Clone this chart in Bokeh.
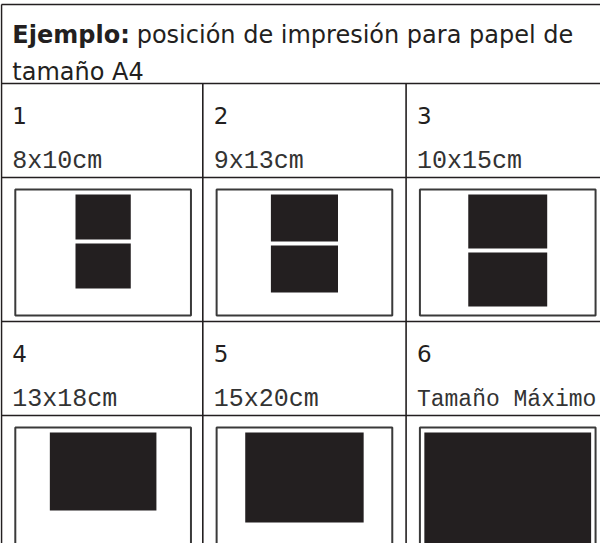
from bokeh.plotting import figure
from bokeh.models import Range1d, ColumnDataSource
from bokeh.embed import file_html
from bokeh.resources import INLINE
from bokeh.core.properties import value

# ---------------- data ----------------
heading_bold = "Ejemplo:"
heading_rest = "posición de impresión para papel de"
heading_line2 = "tamaño A4"
panel_numbers = ["1", "2", "3", "4", "5", "6"]
size_labels = ["8x10cm", "9x13cm", "10x15cm", "13x18cm", "15x20cm", "Tamaño Máximo"]
# drawn photo size inside an A4 frame of 178 x 126 units
photo_w = [56, 68, 80, 108, 120, 169]
photo_h = [45, 47, 54, 78, 90, 116]
photo_count = [2, 2, 2, 1, 1, 1]

# ---------------- layout ----------------
INK = "#231f20"
TABLE_LEFT, TABLE_TOP, TABLE_RIGHT, TABLE_BOTTOM = 5, 12, 620, 575
HEADER_BOTTOM = 91
COL_LEFTS = [5, 209, 415]
ROW_TOPS = [91, 329]
LABEL_H = 94
FRAME_DX, FRAME_DY, FRAME_W, FRAME_H = 14, 106, 178, 126
PHOTO_INSET, PHOTO_GAP = 5, 4

p = figure(width=600, height=543, x_range=Range1d(4, 612), y_range=Range1d(551, 8),
           output_backend="svg", toolbar_location=None,
           x_axis_type=None, y_axis_type=None, min_border=0)
p.outline_line_color = None
p.background_fill_color = "white"
p.border_fill_color = "white"
p.grid.grid_line_color = None

# table lines
hy = [TABLE_TOP, HEADER_BOTTOM] + [v for r in ROW_TOPS for v in (r + LABEL_H,)] + [ROW_TOPS[1]]
hy = sorted(set(hy))
seg = dict(x0=[], y0=[], x1=[], y1=[])
for y in hy:
    seg["x0"].append(TABLE_LEFT); seg["x1"].append(TABLE_RIGHT)
    seg["y0"].append(y); seg["y1"].append(y)
seg["x0"].append(TABLE_LEFT); seg["x1"].append(TABLE_LEFT)
seg["y0"].append(TABLE_TOP); seg["y1"].append(TABLE_BOTTOM)
for cx in COL_LEFTS[1:] + [TABLE_RIGHT]:
    seg["x0"].append(cx); seg["x1"].append(cx)
    seg["y0"].append(HEADER_BOTTOM); seg["y1"].append(TABLE_BOTTOM)
p.segment(x0="x0", y0="y0", x1="x1", y1="y1", source=ColumnDataSource(seg),
          line_color=INK, line_width=1.6)

# frames and photos
fr = dict(left=[], right=[], top=[], bottom=[])
ph = dict(left=[], right=[], top=[], bottom=[])
num = dict(x=[], y=[], t=[])
lab = dict(x=[], y=[], t=[])
for i in range(6):
    col, row = i % 3, i // 3
    cl, rt = COL_LEFTS[col], ROW_TOPS[row]
    fl, ft = cl + FRAME_DX, rt + FRAME_DY
    fr["left"].append(fl); fr["right"].append(fl + FRAME_W)
    fr["top"].append(ft); fr["bottom"].append(ft + FRAME_H)
    cx = fl + FRAME_W / 2
    y = ft + PHOTO_INSET
    for k in range(photo_count[i]):
        ph["left"].append(cx - photo_w[i] / 2); ph["right"].append(cx + photo_w[i] / 2)
        ph["top"].append(y); ph["bottom"].append(y + photo_h[i])
        y += photo_h[i] + PHOTO_GAP
    num["x"].append(cl + 11); num["y"].append(rt + 32); num["t"].append(panel_numbers[i])
    lab["x"].append(cl + 11); lab["y"].append(rt + LABEL_H - 16); lab["t"].append(size_labels[i])

p.quad(left="left", right="right", top="top", bottom="bottom", source=ColumnDataSource(ph),
       fill_color=INK, line_color=None)
p.quad(left="left", right="right", top="top", bottom="bottom", source=ColumnDataSource(fr),
       fill_color=None, line_color="#3a3a3a", line_width=2)

# texts
p.text(x=[16], y=[42], text=[heading_bold], text_font=value("DejaVu Sans"),
       text_font_style="bold", text_font_size="24px", text_color=INK,
       text_baseline="alphabetic", text_align="left")
p.text(x=[142], y=[42], text=[heading_rest], text_font=value("DejaVu Sans"),
       text_font_size="24px", text_color=INK, text_baseline="alphabetic", text_align="left")
p.text(x=[16], y=[79], text=[heading_line2], text_font=value("DejaVu Sans"),
       text_font_size="24px", text_color=INK, text_baseline="alphabetic", text_align="left")
p.text(x="x", y="y", text="t", source=ColumnDataSource(num), text_font=value("DejaVu Sans"),
       text_font_size="23px", text_color=INK, text_baseline="alphabetic", text_align="left")
lab_small = {k: [v[5]] for k, v in lab.items()}
lab_main = {k: v[:5] for k, v in lab.items()}
p.text(x="x", y="y", text="t", source=ColumnDataSource(lab_main), text_font=value("Liberation Mono"),
       text_font_size="25px", text_color="#333333", text_baseline="alphabetic", text_align="left")
p.text(x="x", y="y", text="t", source=ColumnDataSource(lab_small), text_font=value("Liberation Mono"),
       text_font_size="23px", text_color="#333333", text_baseline="alphabetic", text_align="left")

open("out.html", "w").write(file_html(p, INLINE))
